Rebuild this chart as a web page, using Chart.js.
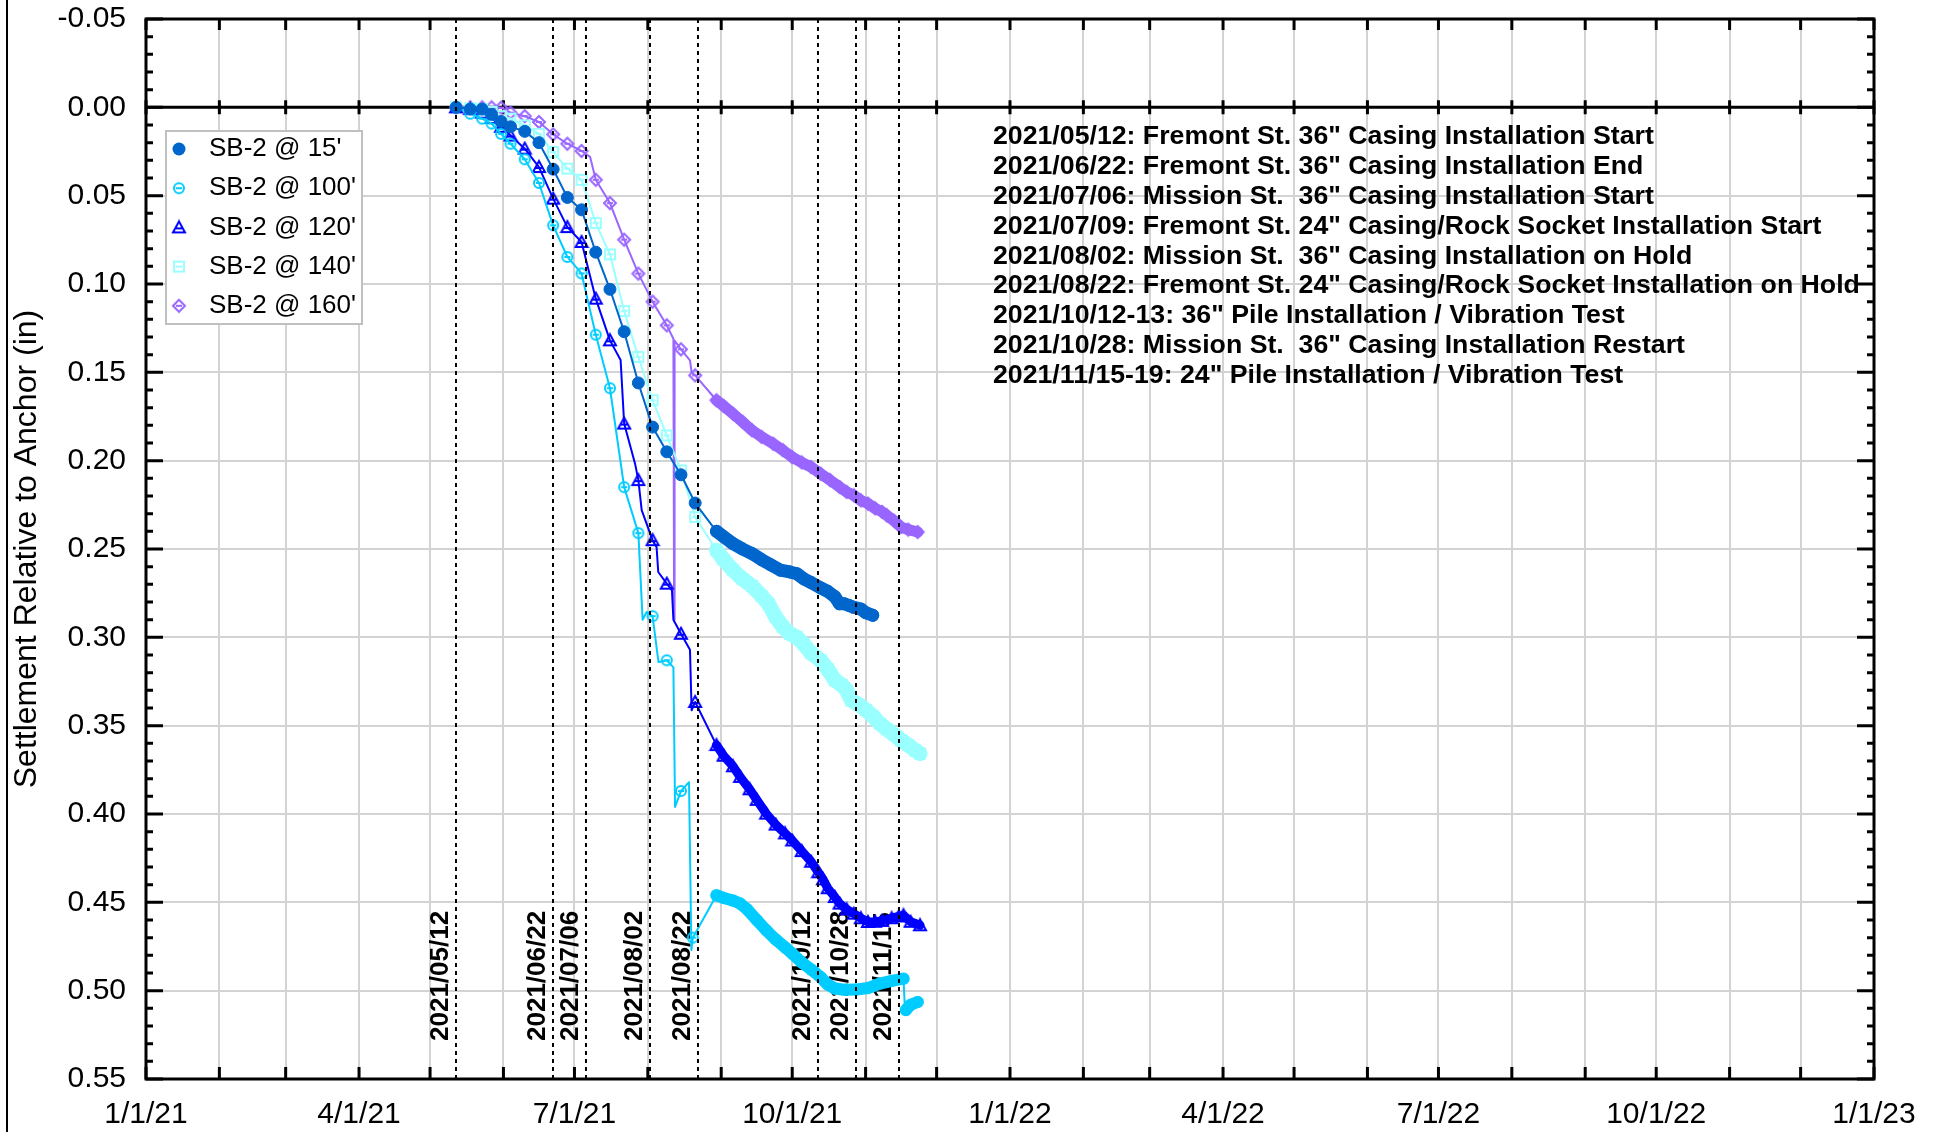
<!DOCTYPE html>
<html>
<head>
<meta charset="utf-8">
<title>SB-2 Settlement</title>
<script src="https://cdn.jsdelivr.net/npm/chart.js@4.4.1/dist/chart.umd.min.js"></script>
<style>
    html, body { margin: 0; padding: 0; background: #ffffff; }
    #wrap { position: relative; width: 1946px; height: 1132px; }
</style>
</head>
<body>
<div id="wrap"><canvas id="settlementChart" width="1946" height="1132"></canvas></div>
<script>
// ============================================
// SB-2 settlement relative to anchor
// x = days since 2021-01-01, y = settlement (in)
// ============================================

var seriesNames = ["SB-2 @ 15'", "SB-2 @ 100'", "SB-2 @ 120'", "SB-2 @ 140'", "SB-2 @ 160'"];

var days15 = [131, 137, 142, 146, 150, 154, 160, 166, 172, 178, 184, 190, 196, 202, 208, 214, 220, 226, 232,
    241, 244, 248, 252, 256, 260, 264, 268, 272, 275, 278, 281, 285, 288, 291, 293, 295, 297, 299, 302, 304, 307];
var sb15 = [0, 0.001, 0.001, 0.004, 0.008, 0.011, 0.0136, 0.020, 0.035, 0.051, 0.058, 0.082, 0.103, 0.127, 0.156, 0.181, 0.195, 0.208, 0.224,
    0.240, 0.243, 0.247, 0.250, 0.2526, 0.256, 0.259, 0.262, 0.263, 0.264, 0.267, 0.269, 0.272, 0.274, 0.277, 0.281, 0.281, 0.282, 0.283, 0.284, 0.286, 0.2875];

var days100 = [131, 137, 142, 146, 150, 154, 160, 166, 172, 178, 184, 190, 196, 202, 208, 209.8, 211.5, 214, 216.5, 218.4, 220, 222.8, 223.5, 226, 229.4, 230.4, 231,
    241, 244, 248, 251, 254, 258, 262, 266, 270, 273, 277, 281, 285, 288, 291, 295, 300, 305, 310, 315, 320, 320.6, 321, 323, 326];
var sb100 = [0, 0.0036, 0.0064, 0.0092, 0.015, 0.0206, 0.0294, 0.0428, 0.0668, 0.0847, 0.094, 0.1287, 0.159, 0.215, 0.241, 0.290, 0.2857, 0.288, 0.314, 0.3135, 0.313, 0.317, 0.396, 0.387, 0.382, 0.477, 0.470,
    0.446, 0.4475, 0.449, 0.4507, 0.454, 0.460, 0.4658, 0.471, 0.4755, 0.479, 0.484, 0.488, 0.4923, 0.4965, 0.4988, 0.4995, 0.4994, 0.4985, 0.496, 0.4945, 0.4932, 0.510, 0.511, 0.508, 0.5064];

var days120 = [131, 137, 142, 146, 150, 154, 160, 166, 172, 178, 184, 190, 196, 200.5, 202, 206.6, 208, 209.4, 214, 215.7, 216.4, 220, 222.2, 222.8, 226, 229.8, 230.5, 232,
    241, 244, 248, 251, 255, 258, 262, 266, 270, 273, 277, 281, 284, 286, 288, 291, 293, 296, 299, 302, 305, 308, 311, 315, 318, 320, 323, 327];
var sb120 = [0, 0.001, 0.003, 0.006, 0.011, 0.016, 0.0234, 0.0338, 0.0517, 0.0678, 0.0762, 0.1083, 0.1319, 0.143, 0.179, 0.2017, 0.211, 0.228, 0.245, 0.249, 0.263, 0.2696, 0.2734, 0.290, 0.298, 0.307, 0.3413, 0.3366,
    0.361, 0.367, 0.373, 0.379, 0.386, 0.392, 0.3998, 0.406, 0.411, 0.415, 0.421, 0.427, 0.433, 0.437, 0.442, 0.447, 0.4507, 0.454, 0.4564, 0.459, 0.4611, 0.461, 0.4605, 0.459, 0.458, 0.4573, 0.461, 0.463];

var days140 = [131, 137, 142, 146, 150, 154, 160, 166, 172, 178, 184, 190, 196, 202, 208, 214, 220, 226, 232,
    241, 244, 248, 252, 256, 260, 263, 266, 269, 272, 275, 278, 281, 285, 288, 291, 294, 296, 298, 301, 304, 307, 310, 313, 316, 319, 322, 325, 327];
var sb140 = [0, 0.0005, 0.001, 0.0026, 0.005, 0.0064, 0.0102, 0.015, 0.0253, 0.0347, 0.041, 0.0655, 0.0832, 0.1153, 0.1413, 0.1658, 0.1857, 0.2055, 0.2319,
    0.2507, 0.256, 0.262, 0.267, 0.271, 0.2765, 0.281, 0.2885, 0.294, 0.298, 0.300, 0.304, 0.309, 0.313, 0.318, 0.3243, 0.327, 0.330, 0.3357, 0.338, 0.341, 0.3445, 0.3488, 0.352, 0.355, 0.3583, 0.361, 0.364, 0.3658];

var days160 = [131, 137, 142, 146, 150, 154, 160, 166, 172, 178, 184, 187.6, 190, 196, 202, 208, 214, 220, 222.8, 223.1, 223.3, 226, 229.8, 230.5, 232,
    241, 244, 248, 252, 256, 260, 265, 269, 273, 277, 281, 285, 289, 293, 296, 299, 302, 305, 308, 311, 313, 316, 319, 322, 326];
var sb160 = [0, 0, 0, 0, 0.0002, 0.003, 0.005, 0.0083, 0.0153, 0.0206, 0.0247, 0.028, 0.041, 0.0542, 0.0749, 0.0941, 0.110, 0.1234, 0.131, 0.29, 0.132, 0.137, 0.1432, 0.150, 0.1517,
    0.1658, 0.169, 0.1734, 0.178, 0.1828, 0.1865, 0.1904, 0.194, 0.198, 0.201, 0.2036, 0.2074, 0.211, 0.2149, 0.2177, 0.2196, 0.2225, 0.2243, 0.227, 0.229, 0.231, 0.234, 0.2376, 0.239, 0.2404];

// construction events (vertical dashed lines)
var eventDates = ['2021/05/12', '2021/06/22', '2021/07/06', '2021/08/02', '2021/08/22', '2021/10/12', '2021/10/28', '2021/11/15'];

var eventNotes = [
    '2021/05/12: Fremont St. 36" Casing Installation Start',
    '2021/06/22: Fremont St. 36" Casing Installation End',
    '2021/07/06: Mission St.  36" Casing Installation Start',
    '2021/07/09: Fremont St. 24" Casing/Rock Socket Installation Start',
    '2021/08/02: Mission St.  36" Casing Installation on Hold',
    '2021/08/22: Fremont St. 24" Casing/Rock Socket Installation on Hold',
    '2021/10/12-13: 36" Pile Installation / Vibration Test',
    '2021/10/28: Mission St.  36" Casing Installation Restart',
    '2021/11/15-19: 24" Pile Installation / Vibration Test'
];

var yTicks = [-0.05, 0, 0.05, 0.10, 0.15, 0.20, 0.25, 0.30, 0.35, 0.40, 0.45, 0.50, 0.55];

// --------------------------------------------
// helpers
// --------------------------------------------
var FONT = "'Liberation Sans', Arial, sans-serif";
var DAY0 = Date.UTC(2021, 0, 1);
var DENSE_FROM = 241; // daily logger readings from here on

function dayOf(str) {
    var p = str.split('/');
    return (Date.UTC(+p[0], +p[1] - 1, +p[2]) - DAY0) / 86400000;
}

// month start ticks 1/1/21 .. 1/1/23
var monthTicks = [];
for (var m = 0; m <= 24; m++) {
    monthTicks.push((Date.UTC(2021, m, 1) - DAY0) / 86400000);
}

function makeMarker(shape, color) {
    var c = document.createElement('canvas');
    c.width = 16;
    c.height = 16;
    var g = c.getContext('2d');
    g.translate(8, 8);
    g.strokeStyle = color;
    g.lineWidth = 2;
    g.beginPath();
    if (shape === 'circle') {
        g.arc(0, 0, 5, 0, Math.PI * 2);
    } else if (shape === 'triangle') {
        g.moveTo(0, -6); g.lineTo(6, 5); g.lineTo(-6, 5); g.closePath();
    } else if (shape === 'square') {
        g.rect(-5, -5, 10, 10);
    } else if (shape === 'diamond') {
        g.moveTo(0, -6); g.lineTo(6, 0); g.lineTo(0, 6); g.lineTo(-6, 0); g.closePath();
    }
    g.stroke();
    g.beginPath();
    g.moveTo(-3, shape === 'triangle' ? 1 : 0);
    g.lineTo(3, shape === 'triangle' ? 1 : 0);
    g.stroke();
    return c;
}

var seriesStyle = [
    {color: '#0066cc', marker: 'circle', band: 13},
    {color: '#00ccff', marker: makeMarker('circle', '#00ccff'), band: 12},
    {color: '#0000ff', marker: makeMarker('triangle', '#0000ff'), band: 9},
    {color: '#99ffff', marker: makeMarker('square', '#99ffff'), band: 15},
    {color: '#9966ff', marker: makeMarker('diamond', '#9966ff'), band: 11}
];

var seriesDays = [days15, days100, days120, days140, days160];
var seriesVals = [sb15, sb100, sb120, sb140, sb160];

var datasets = seriesNames.map(function (name, i) {
    var st = seriesStyle[i];
    return {
        label: name,
        data: seriesDays[i].map(function (d, k) { return {x: d, y: seriesVals[i][k]}; }),
        showLine: true,
        borderColor: st.color,
        backgroundColor: st.color,
        borderWidth: 2,
        borderJoinStyle: 'round',
        borderCapStyle: 'round',
        pointStyle: st.marker,
        pointBackgroundColor: st.color,
        pointBorderColor: st.color,
        pointBorderWidth: 1,
        pointRadius: function (ctx) {
            return (ctx.raw && Number.isInteger(ctx.raw.x)) ? 6 : 0;
        },
        segment: {
            borderWidth: function (s) {
                var a = s.p0.parsed.x, b = s.p1.parsed.x;
                return (a >= DENSE_FROM && Number.isInteger(a) && Number.isInteger(b)) ? st.band : 2;
            }
        }
    };
});

// --------------------------------------------
// decorations: events, zero line, frame, legend
// --------------------------------------------
var decorPlugin = {
    id: 'decor',
    beforeDatasetsDraw: function (chart) {
        var ctx = chart.ctx, a = chart.chartArea;
        var xs = chart.scales.x, ys = chart.scales.y;
        ctx.save();
        // rotated event labels (under the data)
        ctx.fillStyle = '#000';
        ctx.font = 'bold 26px ' + FONT;
        ctx.textAlign = 'left';
        ctx.textBaseline = 'alphabetic';
        eventDates.forEach(function (d) {
            var x = xs.getPixelForValue(dayOf(d));
            ctx.save();
            ctx.translate(x - 8, 1041);
            ctx.rotate(-Math.PI / 2);
            ctx.fillText(d, 0, 0);
            ctx.restore();
        });
        // zero line with month ticks
        var y0 = ys.getPixelForValue(0);
        ctx.strokeStyle = '#000';
        ctx.lineWidth = 3;
        ctx.beginPath();
        ctx.moveTo(a.left, y0);
        ctx.lineTo(a.right, y0);
        monthTicks.forEach(function (v) {
            var x = xs.getPixelForValue(v);
            ctx.moveTo(x, y0 - 7);
            ctx.lineTo(x, y0 + 7);
        });
        ctx.stroke();
        ctx.restore();
    },
    afterDatasetsDraw: function (chart) {
        var ctx = chart.ctx, a = chart.chartArea;
        var xs = chart.scales.x, ys = chart.scales.y;
        ctx.save();
        // dashed event lines
        ctx.strokeStyle = '#000';
        ctx.lineWidth = 2;
        ctx.setLineDash([4, 4]);
        eventDates.forEach(function (d) {
            var x = Math.round(xs.getPixelForValue(dayOf(d)));
            ctx.beginPath();
            ctx.moveTo(x, a.top);
            ctx.lineTo(x, a.bottom);
            ctx.stroke();
        });
        ctx.setLineDash([]);

        // frame
        ctx.lineWidth = 3;
        ctx.strokeRect(a.left, a.top, a.right - a.left, a.bottom - a.top);
        ctx.beginPath();
        monthTicks.forEach(function (v) {
            var x = xs.getPixelForValue(v);
            ctx.moveTo(x, a.bottom); ctx.lineTo(x, a.bottom - 12);
            ctx.moveTo(x, a.top); ctx.lineTo(x, a.top + 11);
        });
        for (var i = -5; i <= 55; i++) {
            var y = ys.getPixelForValue(i / 100);
            var len = (i % 5 === 0) ? 17 : 7;
            ctx.moveTo(a.left, y); ctx.lineTo(a.left + len, y);
            ctx.moveTo(a.right, y); ctx.lineTo(a.right - len, y);
        }
        ctx.stroke();

        // event notes
        ctx.fillStyle = '#000';
        ctx.font = 'bold 26.7px ' + FONT;
        ctx.textAlign = 'left';
        ctx.textBaseline = 'middle';
        eventNotes.forEach(function (t, i) {
            ctx.fillText(t, 993, 137 + i * 29.8);
        });

        // legend box
        ctx.fillStyle = '#fff';
        ctx.fillRect(166, 131, 196, 193);
        ctx.strokeStyle = '#c0c0c0';
        ctx.lineWidth = 2;
        ctx.strokeRect(166, 131, 196, 193);
        ctx.font = '26px ' + FONT;
        chart.data.datasets.forEach(function (ds, i) {
            var yy = 149 + i * 39.2;
            if (ds.pointStyle === 'circle') {
                ctx.fillStyle = ds.borderColor;
                ctx.beginPath();
                ctx.arc(179, yy, 6.5, 0, Math.PI * 2);
                ctx.fill();
            } else {
                Chart.helpers.drawPoint(ctx, {pointStyle: ds.pointStyle, radius: 6, borderWidth: 1}, 179, yy);
            }
            ctx.fillStyle = '#000';
            ctx.fillText(ds.label, 209, yy);
        });

        // outer left border of the figure
        ctx.strokeStyle = '#000';
        ctx.lineWidth = 2;
        ctx.beginPath();
        ctx.moveTo(7, 0);
        ctx.lineTo(7, chart.height);
        ctx.stroke();
        ctx.restore();
    }
};

Chart.defaults.font.family = FONT;
Chart.defaults.color = '#000';

new Chart(document.getElementById('settlementChart').getContext('2d'), {
    type: 'scatter',
    data: {datasets: datasets},
    options: {
        responsive: false,
        animation: false,
        events: [],
        layout: {padding: {top: 19, right: 72, left: 0, bottom: 0}},
        plugins: {
            legend: {display: false},
            tooltip: {enabled: false}
        },
        scales: {
            x: {
                type: 'linear',
                min: 0,
                max: 730,
                afterBuildTicks: function (scale) {
                    scale.ticks = monthTicks.map(function (v) { return {value: v}; });
                },
                afterFit: function (scale) { scale.height = 53; },
                grid: {color: '#d3d3d3', lineWidth: 2, drawTicks: false},
                border: {display: false},
                ticks: {
                    autoSkip: false,
                    maxRotation: 0,
                    padding: 18,
                    font: {size: 30},
                    color: '#000',
                    callback: function (v) {
                        var d = new Date(DAY0 + v * 86400000);
                        if (d.getUTCMonth() % 3 !== 0) {
                            return '';
                        }
                        return (d.getUTCMonth() + 1) + '/' + d.getUTCDate() + '/' + String(d.getUTCFullYear()).slice(2);
                    }
                }
            },
            y: {
                type: 'linear',
                reverse: true,
                min: -0.05,
                max: 0.55,
                afterBuildTicks: function (scale) {
                    scale.ticks = yTicks.map(function (v) { return {value: v}; });
                },
                afterFit: function (scale) {
                    scale.width = 146;
                    scale.paddingTop = 0;
                    scale.paddingBottom = 0;
                },
                grid: {color: '#d3d3d3', lineWidth: 2, drawTicks: false},
                border: {display: false},
                ticks: {
                    padding: 20,
                    font: {size: 30},
                    color: '#000',
                    callback: function (v) { return v.toFixed(2); }
                },
                title: {
                    display: true,
                    text: 'Settlement Relative to Anchor (in)',
                    font: {size: 32},
                    color: '#000',
                    padding: {top: 8, bottom: 0}
                }
            }
        }
    },
    plugins: [decorPlugin]
});
</script>
</body>
</html>
